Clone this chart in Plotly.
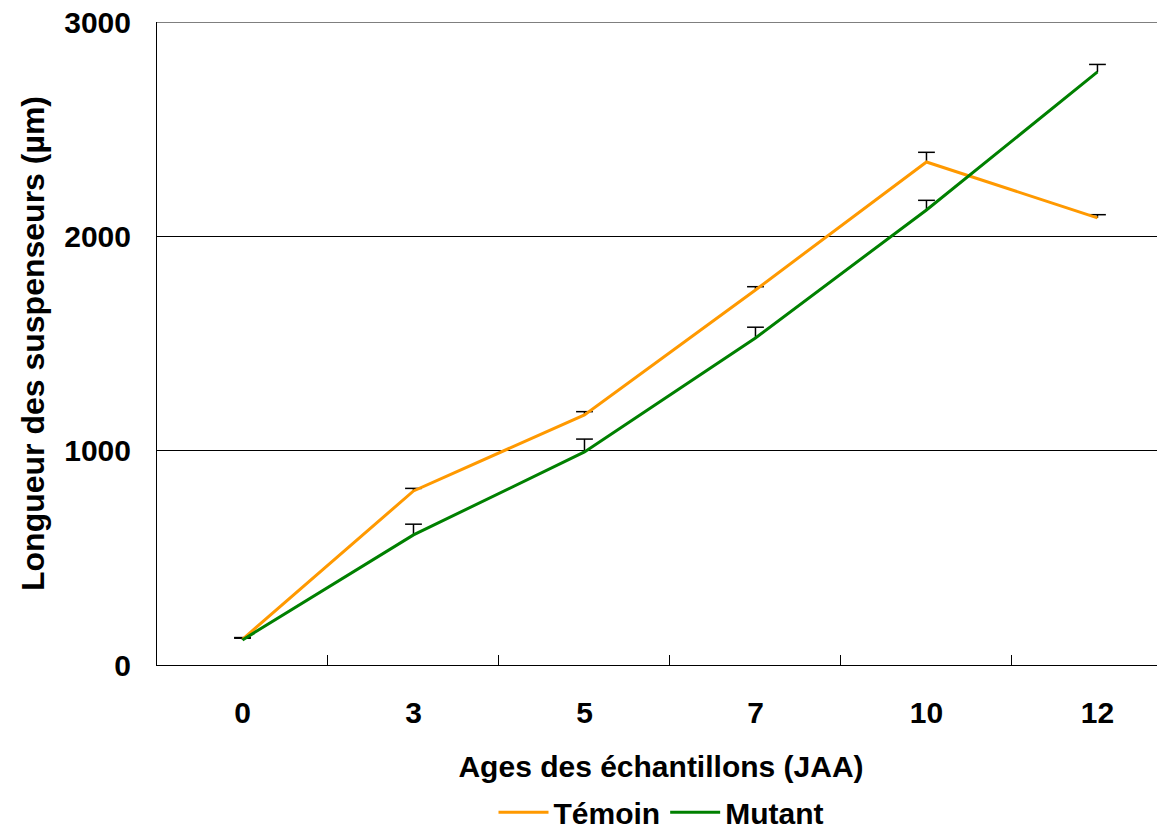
import plotly.graph_objects as go

ages = ["0", "3", "5", "7", "10", "12"]
temoin = [120, 812, 1167, 1750, 2347, 2086]
temoin_err = [8, 12, 15, 15, 45, 15]
mutant = [117, 607, 994, 1526, 2123, 2767]
mutant_err = [8, 50, 60, 50, 45, 35]
y_max = 3000

FONT = "Liberation Sans, Arial, sans-serif"


def err_trace(values, errs):
    tops = [v + e for v, e in zip(values, errs)]
    return go.Scatter(
        x=ages, y=tops, mode="markers", showlegend=False, hoverinfo="skip",
        marker=dict(symbol="line-ew-open", size=12, color="black",
                    line=dict(color="black", width=1.5)),
        error_y=dict(type="data", symmetric=False, array=[0] * len(errs),
                     arrayminus=errs, color="black", thickness=1.5, width=0),
    )


fig = go.Figure()
fig.add_trace(err_trace(temoin, temoin_err))
fig.add_trace(err_trace(mutant, mutant_err))
fig.add_trace(go.Scatter(
    x=ages, y=temoin, name="Témoin", mode="lines",
    line=dict(color="#FF9900", width=3),
))
fig.add_trace(go.Scatter(
    x=ages, y=mutant, name="Mutant", mode="lines",
    line=dict(color="#008000", width=3),
))

# top gridline at the axis maximum
fig.add_shape(type="line", xref="paper", x0=0, x1=1, yref="y", y0=y_max, y1=y_max,
              line=dict(color="black", width=1), layer="below")

fig.update_layout(
    width=1157, height=823,
    margin=dict(l=149, r=0, t=14, b=166, pad=0, autoexpand=False),
    paper_bgcolor="white", plot_bgcolor="white",
    font=dict(family=FONT, size=30, color="black"),
    showlegend=True,
    legend=dict(orientation="h", x=0.5, xanchor="center", y=-0.229,
                yanchor="middle", font=dict(family=FONT, size=30, weight="bold"),
                itemwidth=50, tracegroupgap=0),
)
fig.update_xaxes(
    type="category", range=[-0.5, 5.395], automargin=False,
    showline=True, linecolor="black", linewidth=1,
    ticks="inside", ticklen=10, tickcolor="black", tickson="boundaries",
    showgrid=False, ticklabelstandoff=21,
    tickfont=dict(family=FONT, size=30, weight="bold"),
    title=dict(text="Ages des échantillons (JAA)", standoff=27,
               font=dict(family=FONT, size=30, weight="bold")),
)
fig.update_yaxes(
    range=[0, y_max], dtick=1000, tick0=0, automargin=False,
    showline=True, linecolor="black", linewidth=1,
    showgrid=True, gridcolor="black", gridwidth=1, zeroline=False,
    ticks="", ticklabelstandoff=19, ticklabeloverflow="allow",
    tickfont=dict(family=FONT, size=30, weight="bold"),
    title=dict(text="Longueur des suspenseurs (µm)", standoff=10,
               font=dict(family=FONT, size=32, weight="bold")),
)

fig.write_html("out.html")
